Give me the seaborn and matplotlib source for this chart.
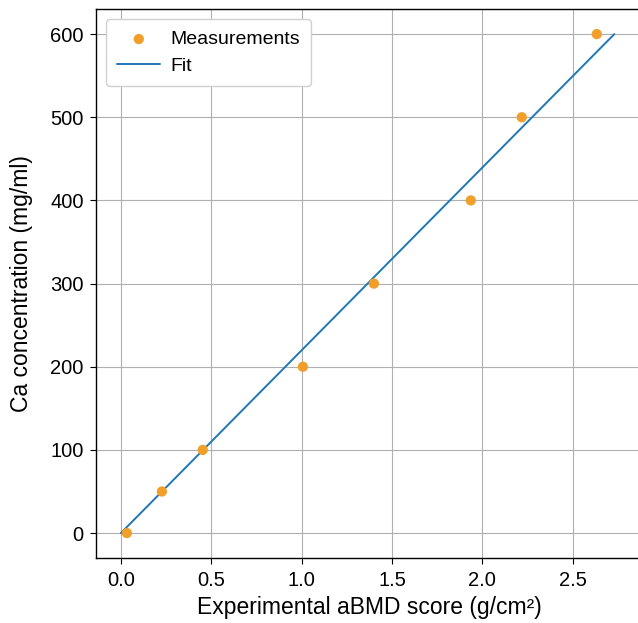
import matplotlib
matplotlib.use("Agg")
import matplotlib.pyplot as plt
import seaborn as sns
import pandas as pd

# data
abmd = [0.033, 0.227, 0.453, 1.007, 1.40, 1.936, 2.218, 2.633]
ca_conc = [0, 50, 100, 200, 300, 400, 500, 600]
fit_x = [0.0, 2.73]
fit_y = [0.0, 600.0]
x_ticks = [0.0, 0.5, 1.0, 1.5, 2.0, 2.5]
y_ticks = [0, 100, 200, 300, 400, 500, 600]

sns.set_style("whitegrid", {"axes.edgecolor": "black", "grid.color": "#b0b0b0",
                            "xtick.bottom": True, "ytick.left": True,
                            "text.color": "black", "axes.labelcolor": "black"})
plt.rcParams['font.family'] = ['Liberation Sans', 'DejaVu Sans']

fig = plt.figure(figsize=(6.38, 6.23), dpi=100)
ax = fig.add_axes([0.1505, 0.1043, 0.857, 0.881])

meas = pd.DataFrame({"x": abmd, "y": ca_conc})
fit = pd.DataFrame({"x": fit_x, "y": fit_y})

sns.scatterplot(data=meas, x="x", y="y", ax=ax, color="#f0a02a", s=55,
                edgecolor="none", label="Measurements", zorder=3)
sns.lineplot(data=fit, x="x", y="y", ax=ax, color="#1f77b4", linewidth=1.4,
             label="Fit", zorder=2)

ax.set_xticks(x_ticks)
ax.set_yticks(y_ticks)
ax.set_xlim(-0.1375, 2.8875)
ax.set_ylim(-30, 630)
ax.tick_params(labelsize=14.5, length=4, width=0.8, color="black",
               labelcolor="black", pad=5)
ax.set_xlabel("Experimental aBMD score (g/cm²)", fontsize=16.5, labelpad=5,
              color="black")
ax.set_ylabel("Ca concentration (mg/ml)", fontsize=16.5, labelpad=12,
              color="black")
for sp in ax.spines.values():
    sp.set_color("black")
    sp.set_linewidth(1.0)
ax.grid(True, color="#b0b0b0", linewidth=0.8)

leg = ax.legend(loc="upper left", fontsize=14, frameon=True, framealpha=1,
                edgecolor="#d0d0d0", fancybox=True, borderpad=0.6,
                labelspacing=0.45, handlelength=2.2, handletextpad=0.5,
                borderaxespad=0.5)
for t in leg.get_texts():
    t.set_color("black")

fig.savefig("out.png", dpi=100)
